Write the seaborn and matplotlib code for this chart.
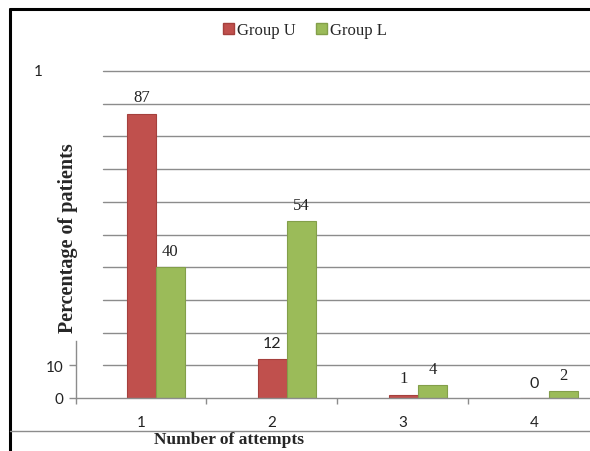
import matplotlib
matplotlib.use("Agg")
import matplotlib.pyplot as plt
from matplotlib.lines import Line2D
from matplotlib.patches import Patch
import seaborn as sns
import pandas as pd

# ---- data ----
attempts = ["1", "2", "3", "4"]
groups = ["Group U", "Group L"]
group_u = [87, 12, 1, 0]
group_l = [40, 54, 4, 2]
ytick_vals = [0, 10]
grid_vals = [10, 20, 30, 40, 50, 60, 70, 80, 90, 100]

red = "#C0504D"
green = "#9BBB59"

df = pd.DataFrame({
    "attempt": attempts * 2,
    "group": [groups[0]] * 4 + [groups[1]] * 4,
    "value": group_u + group_l,
})

sns.set_style("white")
plt.rcParams["font.family"] = ["Liberation Serif", "DejaVu Serif"]

W, H = 590, 452
fig = plt.figure(figsize=(W / 100, H / 100), dpi=100)

unit = 131.0  # px per category
x0 = -0.61
x1 = 3.5
left_px = 76
ax_w = (x1 - x0) * unit
ax = fig.add_axes([left_px / W, (H - 399) / H, ax_w / W, (399 - 72) / H])

sns.barplot(data=df, x="attempt", y="value", hue="group", order=attempts,
            hue_order=groups, palette=[red, green], width=0.44, gap=0,
            saturation=1, edgecolor=None, linewidth=0, legend=False, ax=ax, zorder=3)
edge_cols = ["#A5403D", "#839F4A"]
for cont, ec in zip(ax.containers, edge_cols):
    for b in cont:
        b.set_edgecolor(ec)
        b.set_linewidth(0.8)

ax.set_xlim(x0, x1)
ax.set_ylim(0, 100)

# gridlines
gstart = (103 - left_px) / ax_w
for g in grid_vals:
    ax.axhline(g, xmin=gstart, xmax=1, color="#8C8C8C", lw=1.0, zorder=1, clip_on=False)
ax.axhline(0, color="#8C8C8C", lw=1.0, zorder=4, clip_on=False)

for s in ["top", "right", "bottom"]:
    ax.spines[s].set_visible(False)
ax.spines["left"].set_bounds(0, 17.5)
ax.spines["left"].set_color("#8C8C8C")
ax.spines["left"].set_linewidth(1.0)

# y ticks
ax.set_yticks(ytick_vals)
ax.set_yticklabels([str(v) for v in ytick_vals], fontfamily="Lato", fontsize=11, color="#222222")
ax.tick_params(axis="y", which="major", left=True, length=5, width=1.0, color="#8C8C8C", pad=4)

# x ticks: labels shifted left of bar pairs, boundary ticks as minor
off = -0.115
ax.set_xticks([i + off for i in range(len(attempts))])
ax.set_xticklabels(attempts, fontfamily="Lato", fontsize=11, color="#222222")
ax.tick_params(axis="x", which="major", length=0, pad=12)
ax.set_xticks([x0] + [i + 0.5 - 0.12 for i in range(3)], minor=True)
ax.tick_params(axis="x", which="minor", bottom=True, length=4, width=1.0, color="#8C8C8C")
ax.set_xlabel("")
ax.set_ylabel("")

# data labels
sans_labels = {(0, 1), (0, 3)}
for ci, cont in enumerate(ax.containers):
    texts = ax.bar_label(cont, labels=[str(v) for v in (group_u if ci == 0 else group_l)],
                         padding=6, fontsize=12, color="#222222")
    for j, t in enumerate(texts):
        if (ci, j) in sans_labels:
            t.set_fontfamily("Lato")
            t.set_fontsize(11.5)

# truncated top label
fig.text(38 / W, 1 - 72 / H, "1", fontfamily="Lato", fontsize=11, ha="center", va="center", color="#222222")

# axis titles
fig.text(68 / W, 1 - 238 / H, "Percentage of patients", rotation=90, fontsize=14.5,
         fontweight="bold", ha="center", va="center")
fig.text(229 / W, 1 - 440 / H, "Number of attempts", fontsize=12.5,
         fontweight="bold", ha="center", va="center")

# legend
handles = [Patch(facecolor=red, edgecolor=edge_cols[0]), Patch(facecolor=green, edgecolor=edge_cols[1])]
fig.legend(handles, groups, loc="center", bbox_to_anchor=(305 / W, 1 - 31 / H), ncol=2,
           frameon=False, fontsize=12, handlelength=0.65, handleheight=0.65,
           handletextpad=0.2, columnspacing=1.2, borderaxespad=0)

# frame lines
def px_line(xs, ys, **kw):
    fig.add_artist(Line2D([x / W for x in xs], [1 - y / H for y in ys], transform=fig.transFigure, **kw))

px_line([10, W], [10, 10], color="black", lw=2.2)
px_line([10, 10], [10, H], color="black", lw=2.2)
px_line([10, W], [432, 432], color="#8C8C8C", lw=1.0)

fig.savefig("out.png", dpi=100)
